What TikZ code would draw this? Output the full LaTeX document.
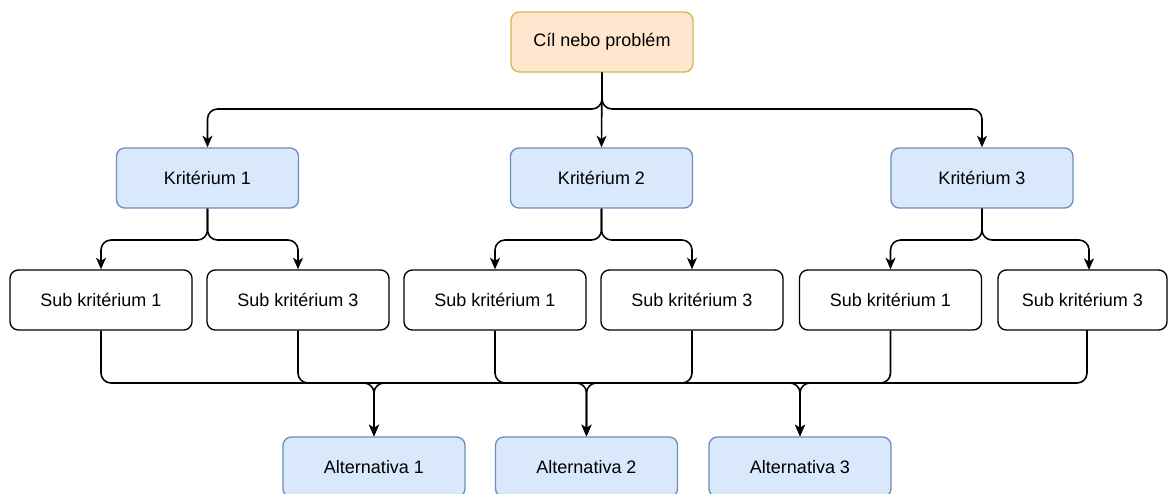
\documentclass[tikz,border=0pt]{standalone}
\usepackage{fontspec}
\setmainfont{Liberation Sans}
\usetikzlibrary{arrows.meta}
\definecolor{bluefill}{HTML}{DAE8FC}
\definecolor{bluedraw}{HTML}{6C8EBF}
\definecolor{orfill}{HTML}{FFE6CC}
\definecolor{ordraw}{HTML}{D6B656}
\tikzset{
  box/.style={draw=black, line width=0.8pt, rounded corners=5pt, minimum width=109.2pt, minimum height=36pt, inner sep=0pt, font=\fontsize{10.8}{13}\selectfont, fill=white},
  bluebox/.style={box, fill=bluefill, draw=bluedraw},
  orbox/.style={box, fill=orfill, draw=ordraw},
  conn/.style={draw=black, line width=0.95pt, rounded corners=6pt, -{Stealth[length=7pt,width=6pt,inset=2pt]}}
}
\begin{document}
\begin{tikzpicture}[x=0.6pt,y=-0.6pt]
\useasboundingbox (0,0) rectangle (1169,493);
\node[orbox] (top) at (602,42) {Cíl nebo problém};
\node[bluebox] (k1) at (207.5,178) {Kritérium 1};
\node[bluebox] (k2) at (601.5,178) {Kritérium 2};
\node[bluebox] (k3) at (982,178) {Kritérium 3};
\node[box] (s1) at (101,300) {Sub kritérium 1};
\node[box] (s2) at (298,300) {Sub kritérium 3};
\node[box] (s3) at (495,300) {Sub kritérium 1};
\node[box] (s4) at (692,300) {Sub kritérium 3};
\node[box] (s5) at (890.5,300) {Sub kritérium 1};
\node[box, minimum width=101.4pt] (s6) at (1082.5,300) {Sub kritérium 3};
\node[bluebox] (a1) at (374,467) {Alternativa 1};
\node[bluebox] (a2) at (586.5,467) {Alternativa 2};
\node[bluebox] (a3) at (800,467) {Alternativa 3};
\coordinate (t) at (0,109);
\coordinate (kb) at (0,240);
\coordinate (bus) at (0,383);
\coordinate (s6in) at (1089,270);
\coordinate (s6out) at (1087,330);
% top level
\draw[conn] (top.south) |- (k1.north |- t) -- (k1.north);
\draw[conn] (top.south) |- (k3.north |- t) -- (k3.north);
\draw[conn] (top.south) -- (k2.north);
% criteria to sub-criteria
\draw[conn] (k1.south) |- (s1.north |- kb) -- (s1.north);
\draw[conn] (k1.south) |- (s2.north |- kb) -- (s2.north);
\draw[conn] (k2.south) |- (s3.north |- kb) -- (s3.north);
\draw[conn] (k2.south) |- (s4.north |- kb) -- (s4.north);
\draw[conn] (k3.south) |- (s5.north |- kb) -- (s5.north);
\draw[conn] (k3.south) |- (s6in |- kb) -- (s6in);
% sub-criteria to alternatives
\draw[conn] (s1.south) |- (a3.north |- bus) -- (a3.north);
\draw[conn] (s2.south) |- (a1.north |- bus) -- (a1.north);
\draw[conn] (s3.south) |- (a2.north |- bus) -- (a2.north);
\draw[conn] (s4.south) |- (a2.north |- bus) -- (a2.north);
\draw[conn] (s5.south) |- (a3.north |- bus) -- (a3.north);
\draw[conn] (s6out) |- (a1.north |- bus) -- (a1.north);
\end{tikzpicture}
\end{document}
